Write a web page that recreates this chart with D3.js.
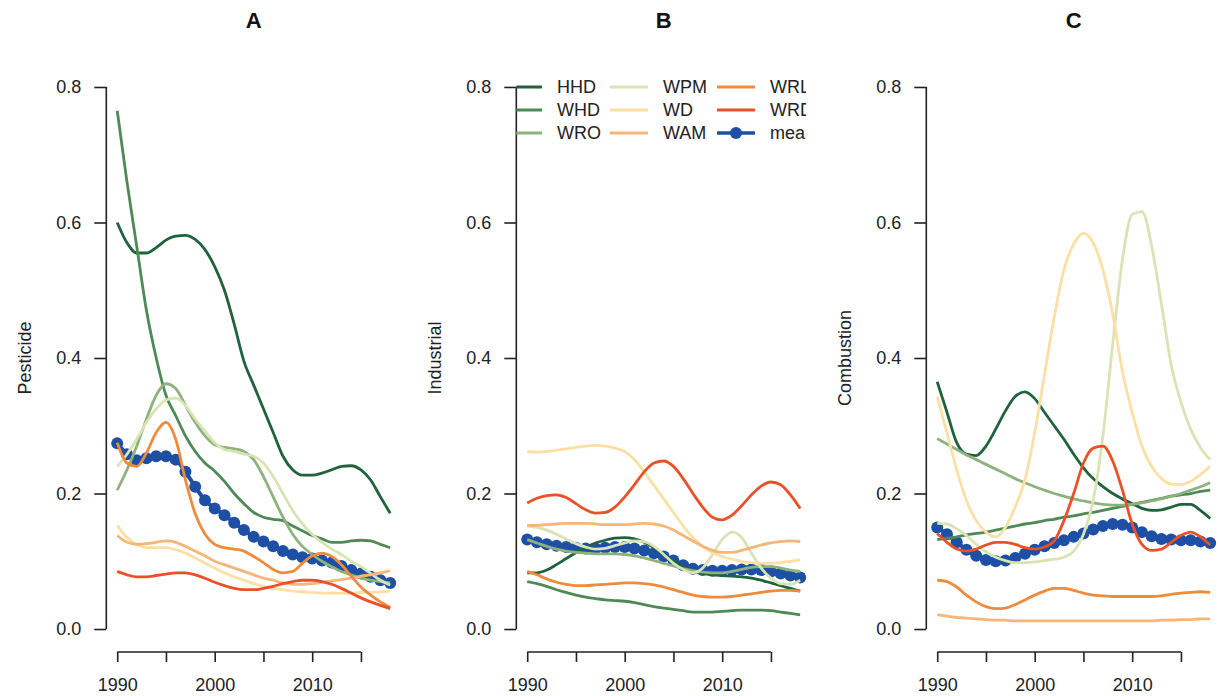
<!DOCTYPE html>
<html>
<head>
<meta charset="utf-8">
<script src="https://cdn.jsdelivr.net/npm/d3@7"></script>
<style>
  body { margin: 0; background: #fff; }
  svg { display: block; font-family: "Liberation Sans", Arial, Helvetica, sans-serif; }
</style>
</head>
<body>
<div id="chart"></div>
<script>
// years 1990..2018
const years = d3.range(1990, 2019);
const seriesNames = ["HHD", "WHD", "WRO", "WPM", "WD", "WAM", "WRL", "WRD"];
const seriesColors = ["#1f623c", "#4e8a56", "#8db27d", "#d9e4b4", "#fcdfa5", "#f6b678", "#f08a3c", "#ea5126"];
const meanColor = "#1d4fa5";
const panelTitles = ["A", "B", "C"];
const panelLabels = ["Pesticide", "Industrial", "Combustion"];
const yTicks = [0, 0.2, 0.4, 0.6, 0.8];
const xTicks = [1990, 1995, 2000, 2005, 2010, 2015];
const xLabelled = [1990, 2000, 2010];

const pesticide = {
  HHD: [0.600,0.570,0.555,0.555,0.563,0.574,0.580,0.581,0.575,0.560,0.535,0.500,0.450,0.395,0.360,0.325,0.290,0.255,0.235,0.227,0.227,0.230,0.235,0.240,0.241,0.235,0.220,0.195,0.171],
  WHD: [0.765,0.660,0.565,0.470,0.400,0.345,0.315,0.285,0.262,0.245,0.233,0.218,0.200,0.185,0.172,0.165,0.162,0.160,0.152,0.145,0.138,0.133,0.128,0.128,0.130,0.131,0.130,0.125,0.120],
  WRO: [0.205,0.235,0.270,0.310,0.345,0.362,0.355,0.330,0.305,0.285,0.272,0.268,0.266,0.262,0.250,0.225,0.195,0.165,0.140,0.122,0.110,0.100,0.092,0.085,0.080,0.075,0.072,0.070,0.068],
  WPM: [0.240,0.258,0.280,0.305,0.325,0.338,0.341,0.330,0.310,0.292,0.275,0.265,0.262,0.258,0.255,0.245,0.225,0.200,0.175,0.155,0.140,0.128,0.118,0.110,0.100,0.092,0.082,0.072,0.065],
  WD:  [0.153,0.135,0.125,0.120,0.120,0.120,0.117,0.112,0.105,0.097,0.090,0.083,0.077,0.072,0.067,0.063,0.060,0.058,0.056,0.055,0.054,0.053,0.053,0.053,0.053,0.054,0.054,0.055,0.056],
  WAM: [0.138,0.128,0.125,0.126,0.128,0.130,0.128,0.122,0.115,0.108,0.100,0.095,0.090,0.085,0.080,0.075,0.072,0.068,0.066,0.066,0.067,0.069,0.071,0.073,0.075,0.078,0.080,0.083,0.086],
  WRL: [0.275,0.245,0.240,0.260,0.290,0.305,0.280,0.220,0.170,0.140,0.125,0.120,0.118,0.115,0.107,0.098,0.088,0.083,0.085,0.097,0.108,0.112,0.107,0.095,0.078,0.062,0.050,0.040,0.032],
  WRD: [0.085,0.080,0.077,0.077,0.079,0.081,0.083,0.083,0.080,0.075,0.069,0.064,0.060,0.058,0.058,0.060,0.063,0.067,0.070,0.072,0.072,0.070,0.066,0.060,0.053,0.046,0.040,0.035,0.030],
  mean:[0.274,0.258,0.249,0.252,0.255,0.255,0.250,0.232,0.210,0.190,0.178,0.168,0.157,0.146,0.136,0.129,0.122,0.115,0.110,0.106,0.104,0.101,0.098,0.093,0.087,0.082,0.077,0.072,0.068]
};

const industrial = {
  HHD: [0.083,0.083,0.087,0.095,0.104,0.113,0.121,0.127,0.131,0.134,0.135,0.133,0.128,0.120,0.110,0.100,0.092,0.086,0.082,0.080,0.079,0.078,0.077,0.075,0.072,0.068,0.064,0.060,0.056],
  WHD: [0.070,0.067,0.063,0.058,0.054,0.050,0.047,0.045,0.043,0.042,0.041,0.039,0.036,0.033,0.031,0.029,0.027,0.025,0.025,0.025,0.026,0.027,0.028,0.028,0.028,0.027,0.025,0.023,0.021],
  WRO: [0.132,0.127,0.122,0.118,0.115,0.113,0.112,0.111,0.111,0.111,0.110,0.108,0.105,0.101,0.097,0.093,0.089,0.086,0.084,0.083,0.083,0.085,0.088,0.091,0.092,0.092,0.090,0.087,0.085],
  WPM: [0.152,0.150,0.146,0.140,0.133,0.126,0.121,0.118,0.119,0.123,0.127,0.130,0.129,0.122,0.110,0.097,0.088,0.083,0.090,0.110,0.132,0.143,0.135,0.112,0.090,0.075,0.067,0.066,0.072],
  WD:  [0.262,0.261,0.262,0.264,0.266,0.268,0.270,0.271,0.270,0.267,0.262,0.250,0.232,0.212,0.192,0.172,0.152,0.135,0.122,0.113,0.107,0.103,0.100,0.098,0.097,0.097,0.098,0.100,0.102],
  WAM: [0.153,0.153,0.154,0.155,0.156,0.156,0.156,0.155,0.154,0.154,0.154,0.155,0.156,0.155,0.152,0.146,0.138,0.130,0.122,0.116,0.113,0.113,0.116,0.120,0.124,0.127,0.129,0.130,0.129],
  WRL: [0.085,0.080,0.074,0.069,0.066,0.064,0.064,0.065,0.066,0.067,0.068,0.068,0.067,0.065,0.062,0.058,0.054,0.050,0.048,0.047,0.047,0.048,0.050,0.052,0.054,0.056,0.057,0.057,0.056],
  WRD: [0.186,0.193,0.197,0.198,0.194,0.185,0.176,0.171,0.172,0.180,0.195,0.213,0.232,0.245,0.248,0.240,0.222,0.200,0.180,0.165,0.161,0.168,0.182,0.198,0.211,0.217,0.213,0.198,0.178],
  mean:[0.132,0.128,0.125,0.123,0.121,0.120,0.119,0.119,0.120,0.121,0.121,0.119,0.116,0.112,0.107,0.101,0.094,0.089,0.087,0.086,0.086,0.087,0.088,0.088,0.087,0.085,0.082,0.079,0.076]
};

const combustion = {
  HHD: [0.365,0.320,0.275,0.258,0.256,0.270,0.295,0.322,0.343,0.350,0.340,0.320,0.300,0.280,0.258,0.238,0.222,0.210,0.200,0.192,0.185,0.178,0.175,0.176,0.180,0.184,0.184,0.175,0.163],
  WHD: [0.132,0.134,0.136,0.139,0.141,0.143,0.146,0.149,0.152,0.155,0.157,0.160,0.162,0.165,0.167,0.170,0.172,0.175,0.178,0.181,0.184,0.187,0.190,0.193,0.196,0.198,0.200,0.203,0.205],
  WRO: [0.281,0.273,0.265,0.257,0.250,0.243,0.236,0.229,0.222,0.216,0.210,0.205,0.200,0.196,0.192,0.189,0.186,0.184,0.183,0.183,0.184,0.186,0.189,0.192,0.196,0.200,0.205,0.210,0.216],
  WPM: [0.156,0.155,0.148,0.138,0.125,0.114,0.106,0.101,0.098,0.098,0.099,0.101,0.103,0.106,0.115,0.140,0.190,0.285,0.420,0.545,0.612,0.616,0.565,0.480,0.390,0.335,0.295,0.268,0.250],
  WD:  [0.343,0.290,0.235,0.190,0.160,0.143,0.136,0.150,0.180,0.220,0.290,0.375,0.460,0.530,0.568,0.584,0.570,0.530,0.465,0.380,0.320,0.270,0.240,0.222,0.214,0.213,0.218,0.228,0.240],
  WAM: [0.021,0.019,0.017,0.016,0.015,0.014,0.013,0.013,0.012,0.012,0.012,0.012,0.012,0.012,0.012,0.012,0.012,0.012,0.012,0.012,0.012,0.012,0.012,0.013,0.013,0.014,0.014,0.015,0.015],
  WRL: [0.072,0.070,0.062,0.050,0.040,0.033,0.030,0.031,0.036,0.043,0.050,0.056,0.060,0.060,0.057,0.053,0.050,0.049,0.048,0.048,0.048,0.048,0.048,0.049,0.051,0.053,0.054,0.055,0.054],
  WRD: [0.141,0.128,0.118,0.115,0.118,0.124,0.128,0.128,0.125,0.120,0.118,0.121,0.130,0.160,0.200,0.245,0.267,0.270,0.248,0.205,0.155,0.125,0.116,0.118,0.128,0.138,0.143,0.136,0.124],
  mean:[0.150,0.140,0.128,0.117,0.108,0.102,0.100,0.101,0.105,0.111,0.117,0.122,0.127,0.131,0.136,0.141,0.147,0.152,0.155,0.154,0.150,0.143,0.137,0.133,0.132,0.131,0.131,0.129,0.127]
};

const panels = [pesticide, industrial, combustion];

const width = 1218, height = 696;
const fontSize = 18;
const svg = d3.select("#chart").append("svg")
  .attr("width", width)
  .attr("height", height);

const y = d3.scaleLinear().domain([-0.032, 0.832]).range([650.7, 65.3]);

panels.forEach((data, p) => {
  const off = p * 410;
  const x = d3.scaleLinear().domain([1988.88, 2019.12]).range([106.3 + off, 401.1 + off]);
  const left = x.range()[0], right = x.range()[1];
  const g = svg.append("g");

  // title
  g.append("text")
    .attr("x", (left + right) / 2).attr("y", 28)
    .attr("text-anchor", "middle")
    .attr("font-size", 22).attr("font-weight", "bold")
    .attr("fill", "#111")
    .text(panelTitles[p]);

  // y axis
  const yAxis = g.append("g")
    .attr("transform", `translate(${left},0)`)
    .call(d3.axisLeft(y).tickValues(yTicks).tickFormat(d3.format(".1f")).tickSize(12).tickPadding(13));
  yAxis.select(".domain").remove();
  yAxis.append("line")
    .attr("y1", y(0)).attr("y2", y(0.8))
    .attr("stroke", "#222").attr("stroke-width", 1.6);
  yAxis.selectAll(".tick line").attr("stroke", "#222").attr("stroke-width", 1.6);
  yAxis.selectAll(".tick text").attr("font-size", fontSize).attr("fill", "#222")
    .attr("font-family", "'Liberation Sans', Arial, sans-serif");

  // x axis
  const xAxis = g.append("g")
    .attr("transform", `translate(0,652)`)
    .call(d3.axisBottom(x).tickValues(xTicks)
      .tickFormat(d => xLabelled.includes(d) ? d : "")
      .tickSize(10).tickPadding(16));
  xAxis.select(".domain").remove();
  xAxis.append("line")
    .attr("x1", x(1990)).attr("x2", x(2015))
    .attr("stroke", "#222").attr("stroke-width", 1.6);
  xAxis.selectAll(".tick line").attr("stroke", "#222").attr("stroke-width", 1.6);
  xAxis.selectAll(".tick text").attr("font-size", fontSize).attr("fill", "#222")
    .attr("font-family", "'Liberation Sans', Arial, sans-serif");

  // axis label
  g.append("text")
    .attr("transform", `translate(${31 + off},358) rotate(-90)`)
    .attr("text-anchor", "middle")
    .attr("font-size", fontSize).attr("fill", "#222")
    .text(panelLabels[p]);

  const plot = g.append("g");
  const line = d3.line()
    .x((d, i) => x(years[i]))
    .y(d => y(d))
    .curve(d3.curveMonotoneX);

  // mean first, the sources are drawn over it
  plot.append("path")
    .attr("d", line(data.mean))
    .attr("fill", "none")
    .attr("stroke", meanColor)
    .attr("stroke-width", 4);
  plot.selectAll("circle.mean")
    .data(data.mean)
    .enter().append("circle")
    .attr("class", "mean")
    .attr("cx", (d, i) => x(years[i]))
    .attr("cy", d => y(d))
    .attr("r", 6)
    .attr("fill", meanColor);

  seriesNames.forEach((name, k) => {
    plot.append("path")
      .attr("d", line(data[name]))
      .attr("fill", "none")
      .attr("stroke", seriesColors[k])
      .attr("stroke-width", 2.8)
      .attr("stroke-linejoin", "round");
  });

  // legend only in the middle panel, clipped to the plot box
  if (p === 1) {
    svg.append("clipPath").attr("id", "legclip")
      .append("rect")
      .attr("x", left).attr("y", 65.3)
      .attr("width", right - left - 5).attr("height", 120);
    const leg = g.append("g").attr("clip-path", "url(#legclip)");
    const names = seriesNames.concat(["mean"]);
    const colors = seriesColors.concat([meanColor]);
    const colX = [504, 610, 717];
    names.forEach((name, i) => {
      const c = Math.floor(i / 3), r = i % 3;
      const lx = colX[c], ly = 87 + r * 23;
      leg.append("line")
        .attr("x1", lx).attr("x2", lx + 38)
        .attr("y1", ly).attr("y2", ly)
        .attr("stroke", colors[i])
        .attr("stroke-width", name === "mean" ? 3.5 : 2.8);
      if (name === "mean") {
        leg.append("circle").attr("cx", lx + 19).attr("cy", ly).attr("r", 6).attr("fill", meanColor);
      }
      leg.append("text")
        .attr("x", lx + 53).attr("y", ly)
        .attr("dy", "0.35em")
        .attr("font-size", fontSize).attr("fill", "#222")
        .text(name);
    });
  }
});
</script>
</body>
</html>
